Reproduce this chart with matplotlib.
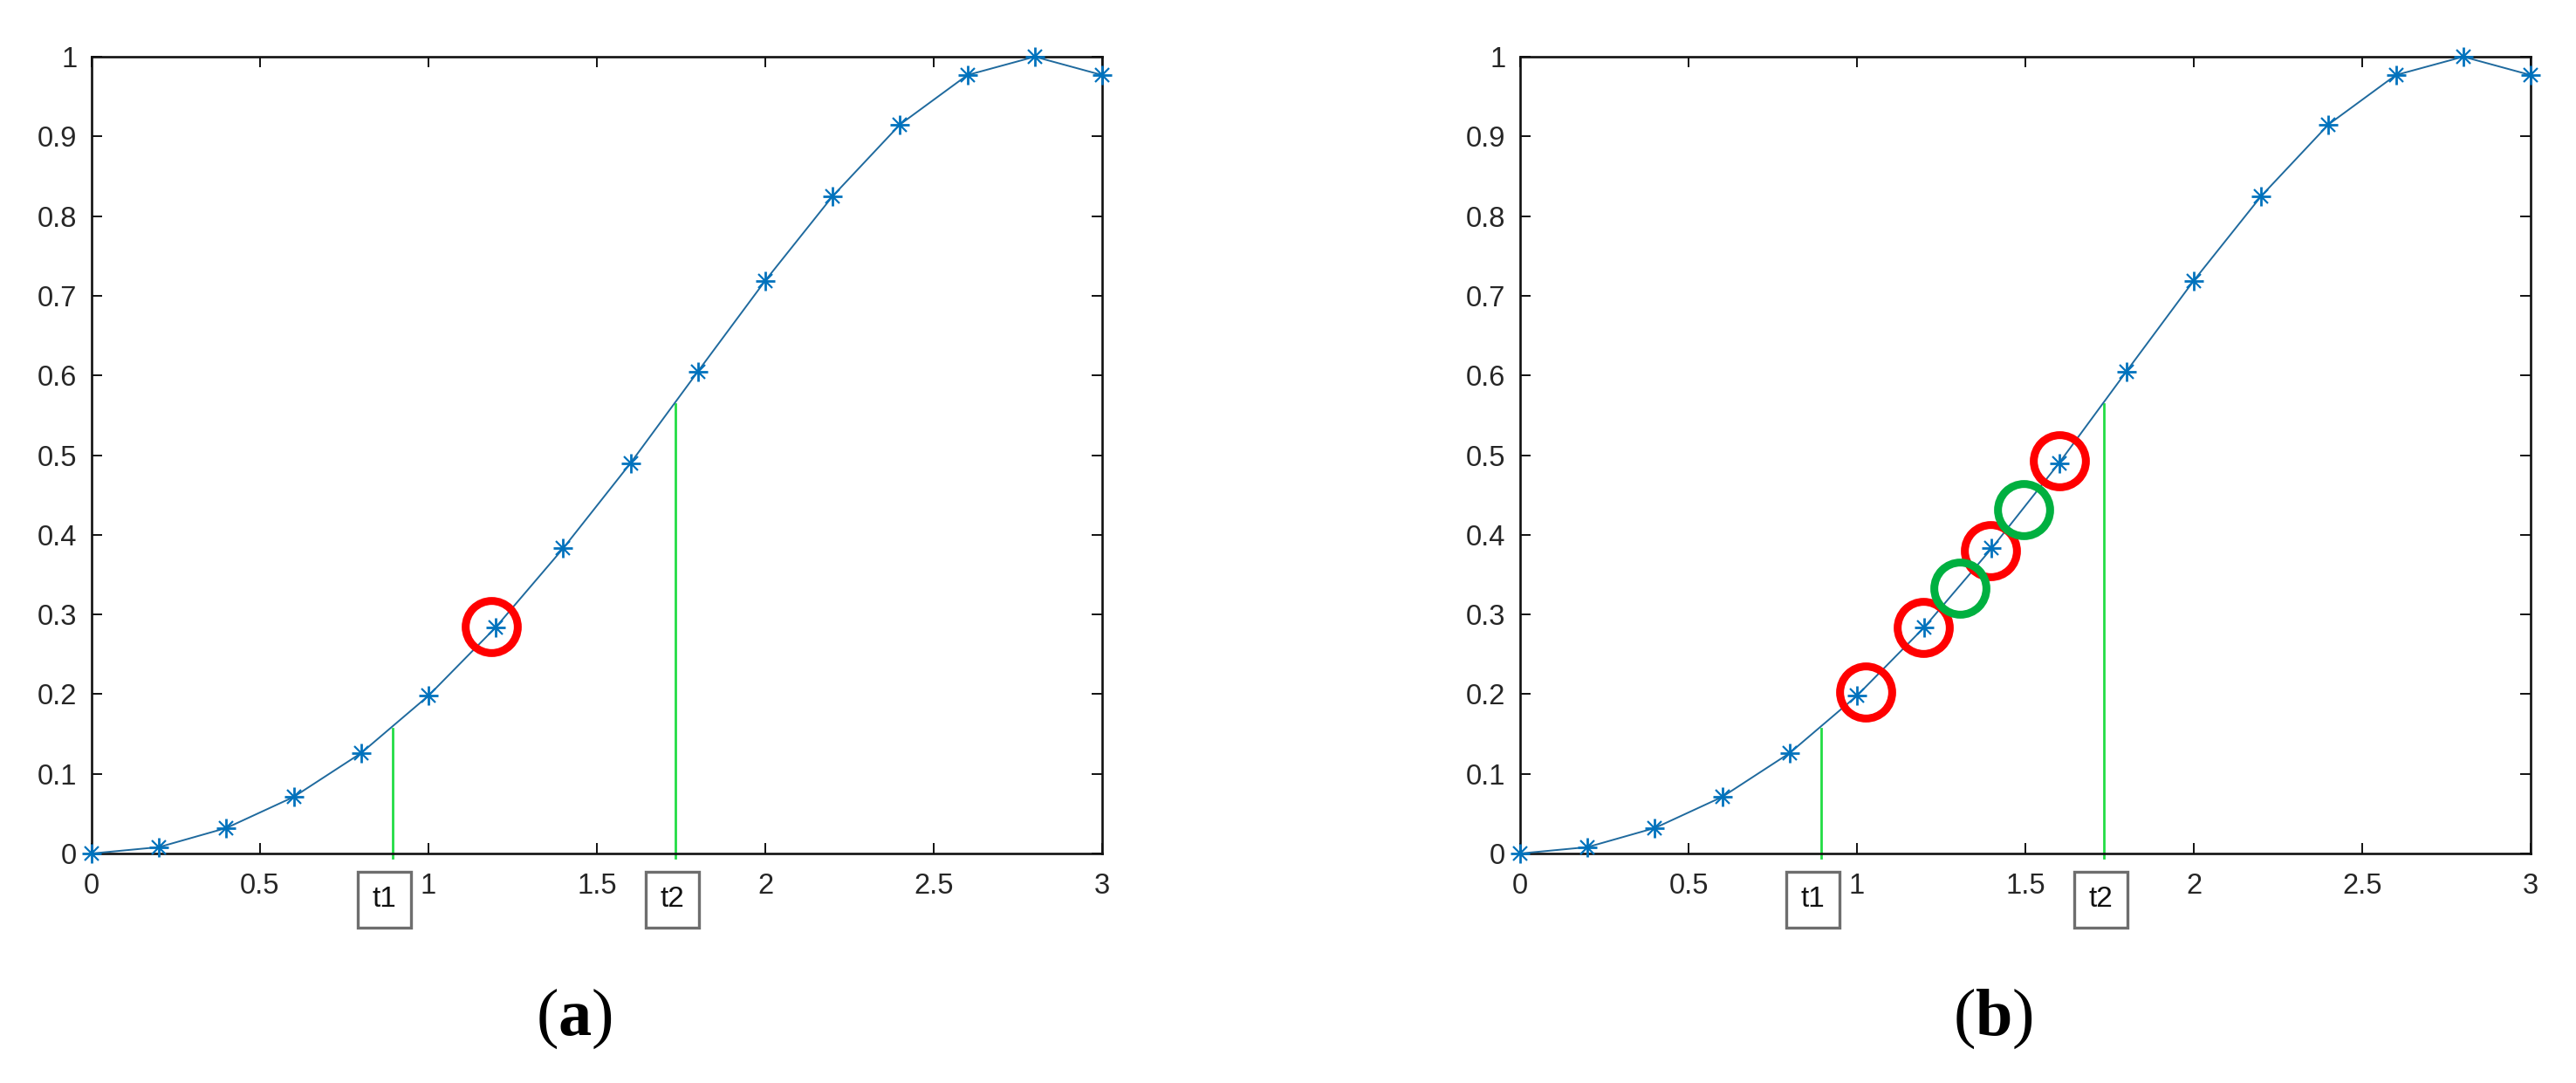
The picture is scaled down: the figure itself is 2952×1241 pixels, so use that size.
import numpy as np
import matplotlib.pyplot as plt
from matplotlib.ticker import FormatStrFormatter

plt.rcParams['font.family'] = ['Liberation Sans', 'DejaVu Sans']
plt.rcParams['mathtext.fontset'] = 'custom'
plt.rcParams['mathtext.rm'] = 'Liberation Serif'
plt.rcParams['mathtext.bf'] = 'Liberation Serif:bold'

# curve samples
x_vals = [0.0, 0.2, 0.4, 0.6, 0.8, 1.0, 1.2, 1.4, 1.6, 1.8, 2.0, 2.2, 2.4, 2.6, 2.8, 3.0]
y_vals = [0.0, 0.008, 0.032, 0.071, 0.126, 0.198, 0.284, 0.383, 0.490, 0.605,
          0.719, 0.825, 0.915, 0.977, 1.0, 0.977]

# t1 / t2 cut lines
cut_names = ['t1', 't2']
cut_x = [0.894, 1.734]
cut_top = [0.157, 0.564]
box_x = [0.870, 1.725]

# highlighted points
red_a_x = [1.187]
red_a_y = [0.285]
red_b_x = [1.026, 1.197, 1.396, 1.601]
red_b_y = [0.203, 0.284, 0.380, 0.493]
green_b_x = [1.305, 1.495]
green_b_y = [0.333, 0.431]

panel_names = ['a', 'b']

W, H = 2952, 1241
fig = plt.figure(figsize=(W / 100, H / 100), dpi=100)

BLUE = '#0072BD'
TXT = '#262626'


def draw_panel(ax, red_x, red_y, green_x, green_y):
    ax.plot(x_vals, y_vals, color='#1f6a9e', lw=1.4, zorder=3, clip_on=False)
    ax.plot(x_vals, y_vals, ls='none', marker='+', ms=16, mew=2.0, color=BLUE,
            zorder=4, clip_on=False)
    ax.plot(x_vals, y_vals, ls='none', marker='x', ms=11, mew=1.6, color=BLUE,
            zorder=4, clip_on=False)

    for cx, top, bx, name in zip(cut_x, cut_top, box_x, cut_names):
        ax.plot([cx, cx], [-0.005, top], color='#22dd44', lw=2.0, zorder=2,
                clip_on=False)
        ax.text(bx, -0.058, name, transform=ax.get_xaxis_transform(),
                ha='center', va='center', fontsize=24, color='#111111',
                bbox=dict(boxstyle='square,pad=0.5', fc='white',
                          ec='#6e6e6e', lw=2.4))

    ax.plot(red_x, red_y, ls='none', marker='o', ms=43, mfc='none',
            mec='#ff0000', mew=6.5, zorder=5)
    if green_x:
        ax.plot(green_x, green_y, ls='none', marker='o', ms=43, mfc='none',
                mec='#00b040', mew=6.5, zorder=5)

    ax.set_xlim(0, 3)
    ax.set_ylim(0, 1)
    ax.set_xticks(np.arange(0, 3.01, 0.5))
    ax.set_yticks(np.arange(0, 1.01, 0.1))
    ax.xaxis.set_major_formatter(FormatStrFormatter('%g'))
    ax.yaxis.set_major_formatter(FormatStrFormatter('%g'))
    ax.tick_params(direction='in', length=8.5, width=1.4, top=True, right=True,
                   labelsize=23.5, labelcolor=TXT, color='#111111')
    ax.tick_params(axis='x', pad=16)
    ax.tick_params(axis='y', pad=12)
    for sp in ax.spines.values():
        sp.set_linewidth(1.9)
        sp.set_color('#111111')


ax1 = fig.add_axes([105 / W, 1 - 978 / H, 1158 / W, 913 / H])
draw_panel(ax1, red_a_x, red_a_y, [], [])
ax2 = fig.add_axes([1742 / W, 1 - 978 / H, 1158 / W, 913 / H])
draw_panel(ax2, red_b_x, red_b_y, green_b_x, green_b_y)

for px, name in zip([658, 2284], panel_names):
    fig.text(px / W, 1 - 1167 / H, r'($\mathbf{%s}$)' % name, ha='center',
             va='center', fontsize=55, family='Liberation Serif', color='black')

fig.savefig('out.png', dpi=100, facecolor='white')
